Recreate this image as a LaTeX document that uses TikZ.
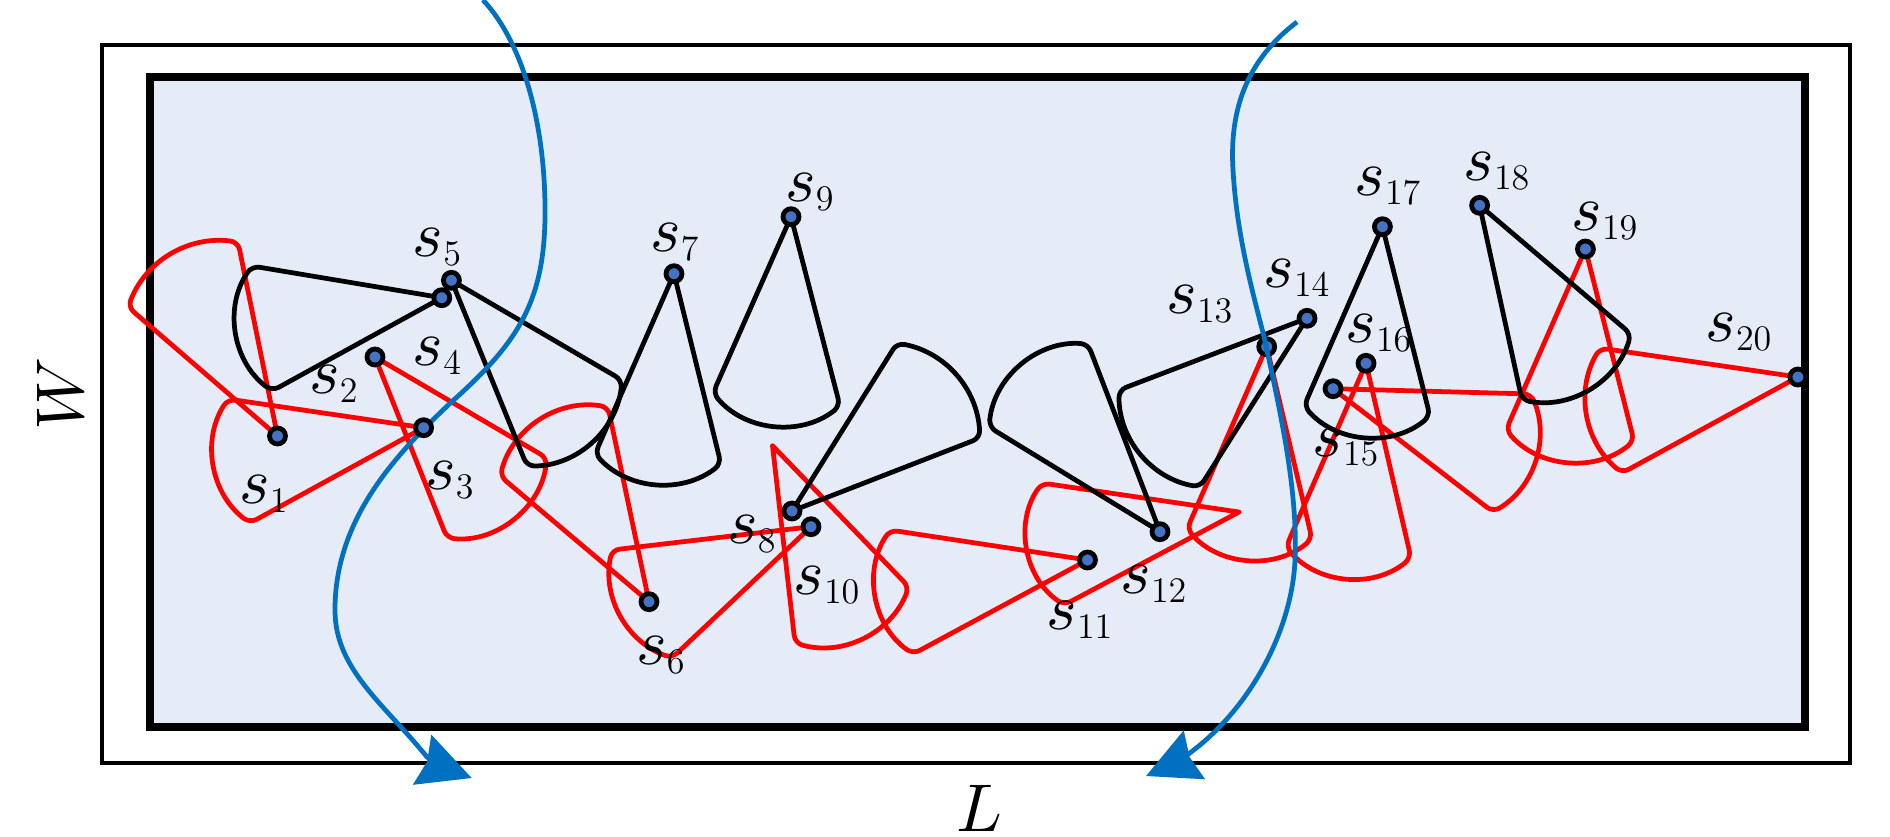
\documentclass[tikz,border=0pt]{standalone}
\usepackage{tikz}
\usetikzlibrary{arrows.meta}
\definecolor{fieldblue}{HTML}{E6ECF7}
\definecolor{dotblue}{HTML}{4472C4}
\definecolor{pathblue}{HTML}{0070C0}
% letters from the 10pt design at every size, smaller subscripts
\DeclareFontFamily{OML}{cmmx}{\skewchar\font127}
\DeclareFontShape{OML}{cmmx}{m}{it}{<->cmmi10}{}
\SetSymbolFont{letters}{normal}{OML}{cmmx}{m}{it}
\DeclareMathSizes{26}{26}{14.4}{12}
\DeclareMathSizes{27}{27}{14.4}{12}
\begin{document}
\begin{tikzpicture}[x=0.4pt,y=-0.4pt,
                    field/.style={draw,line width=3.2pt,fill=fieldblue},
                    outer/.style={draw,line width=1.6pt},
                    redcone/.style={draw=red,line width=1.9pt,rounded corners=3pt,line cap=round},
                    blackcone/.style={draw=black,line width=1.9pt,rounded corners=3pt,line cap=round},
                    sensor/.style={circle,draw,line width=1.9pt,fill=dotblue,inner sep=0,minimum size=6.4pt},
                    lab/.style={inner sep=0,font=\fontsize{26}{30}\selectfont},
                    biglab/.style={inner sep=0,font=\fontsize{27}{30}\selectfont},
                    crossing/.style={draw=pathblue,line width=1.9pt,-{Stealth[length=21pt,width=21pt,inset=2pt]}}
        ]
\useasboundingbox (0,0) rectangle (1890,836);
\node[outer,inner sep=0,minimum width=699pt,minimum height=287.4pt] (area) at (976,403.8) {};
\node[field,inner sep=0,minimum width=661.8pt,minimum height=259.9pt] (roi) at (977.6,401.8) {};
\foreach \n/\x/\y in {1/277.5/436,2/375/357,3/423.6/427.7,4/441.8/297.7,5/451.4/280.3,
        6/649/601.7,7/674/273.7,8/792/511,9/791/216.7,10/811/526.7,
        11/1087.5/560,12/1160/531.7,13/1266.7/346.7,14/1307/318.3,15/1333/388.7,
        16/1366/363.3,17/1382.4/226.7,18/1479.6/205.3,19/1585.4/249,20/1797.9/377}
    \coordinate (c\n) at (\x,\y);
\coordinate (tip1) at (772.5,445.7);
\coordinate (tip2) at (1239,512);
% red cones
\draw[redcone] (c1) -- (238,242) to[bend right=38] (128,307) -- cycle;
\draw[redcone] (c2) -- (447,538) to[bend right=44] (547,458) -- cycle;
\draw[redcone] (c3) -- (228,399) to[bend right=43] (250,523) -- cycle;
\draw[redcone] (c6) -- (608,407) to[bend right=42] (500,476) -- cycle;
\draw[redcone] (c10) -- (612,550) to[bend right=41] (672,658) -- cycle;
\draw[redcone] (c11) -- (890,530) to[bend right=44] (913,654) -- cycle;
\draw[redcone] (c13) -- (1187,529) to[bend right=44] (1312,539) -- cycle;
\draw[redcone] (c15) -- (1493,512) to[bend right=41] (1531,394) -- cycle;
\draw[redcone] (c16) -- (1286,547) to[bend right=44] (1411,558) -- cycle;
\draw[redcone] (c19) -- (1506,430) to[bend right=44] (1634,441) -- cycle;
\draw[redcone] (c20) -- (1600,348) to[bend right=40] (1622,473) -- cycle;
\draw[redcone] (tip1) -- (795,643) to[bend right=42] (909,587) -- (tip1);
\draw[redcone] (tip2) -- (1042,483) to[bend right=45] (1064,605) -- (tip2);
% black cones
\draw[blackcone] (c4) -- (252,266) to[bend right=44] (272,391) -- cycle;
\draw[blackcone] (c5) -- (527,466) to[bend right=42] (622,380) -- cycle;
\draw[blackcone] (c7) -- (595,454) to[bend right=42] (721,464) -- cycle;
\draw[blackcone] (c8) -- (980,438) to[bend right=38] (897,343) -- cycle;
\draw[blackcone] (c9) -- (713,393) to[bend right=44] (840,406) -- cycle;
\draw[blackcone] (c12) -- (1088,344) to[bend right=44] (989,427) -- cycle;
\draw[blackcone] (c14) -- (1119,390) to[bend right=40] (1200,487) -- cycle;
\draw[blackcone] (c17) -- (1304,406) to[bend right=44] (1430,416) -- cycle;
\draw[blackcone] (c18) -- (1522,400) to[bend right=42] (1631,334) -- cycle;
% first crossing path goes under the sensors
\coordinate (in1) at (483,0);
\coordinate (out1) at (471.7,778);
\draw[crossing] (in1) .. controls (525,45) and (546,130) .. (545,217)
    .. controls (544,305) and (515,345) .. (451.8,401.7)
    .. controls (395,455) and (334,520) .. (335,612)
    .. controls (336,670) and (385,705) .. (427,757)
    .. controls (437,765) and (450,770) .. (out1);
\foreach \n in {1,...,20}
    \node[sensor] (s\n) at (c\n) {};
\coordinate (in2) at (1297,22);
\coordinate (out2) at (1146,776);
\draw[crossing] (in2) .. controls (1240,65) and (1230,120) .. (1233,170)
    .. controls (1237,240) and (1255,300) .. (1264,337)
    .. controls (1280,410) and (1298,490) .. (1295,560)
    .. controls (1292,630) and (1250,710) .. (1187,755)
    .. controls (1175,762) and (1162,769) .. (out2);
\node[lab] (l1) at (264,494) {$s_{1}$};
\node[lab] (l2) at (334,384) {$s_{2}$};
\node[lab] (l3) at (450,480) {$s_{3}$};
\node[lab] (l4) at (437.5,356) {$s_{4}$};
\node[lab] (l5) at (437.5,247) {$s_{5}$};
\node[lab] (l6) at (661,655) {$s_{6}$};
\node[lab] (l7) at (675,242) {$s_{7}$};
\node[lab] (l8) at (752,534) {$s_{8}$};
\node[lab] (l9) at (810,192) {$s_{9}$};
\node[lab] (l10) at (827,585) {$s_{10}$};
\node[lab] (l11) at (1080,620) {$s_{11}$};
\node[lab] (l12) at (1154,584) {$s_{12}$};
\node[lab] (l13) at (1200,304) {$s_{13}$};
\node[lab] (l14) at (1297,278) {$s_{14}$};
\node[lab] (l15) at (1346,447) {$s_{15}$};
\node[lab] (l16) at (1379,333) {$s_{16}$};
\node[lab] (l17) at (1388,186) {$s_{17}$};
\node[lab] (l18) at (1497,171) {$s_{18}$};
\node[lab] (l19) at (1605,221) {$s_{19}$};
\node[lab] (l20) at (1739,332) {$s_{20}$};
\node[biglab] (len) at (979,808) {$L$};
\node[biglab,rotate=90] (wid) at (60,394) {$W$};
\end{tikzpicture}
\end{document}
